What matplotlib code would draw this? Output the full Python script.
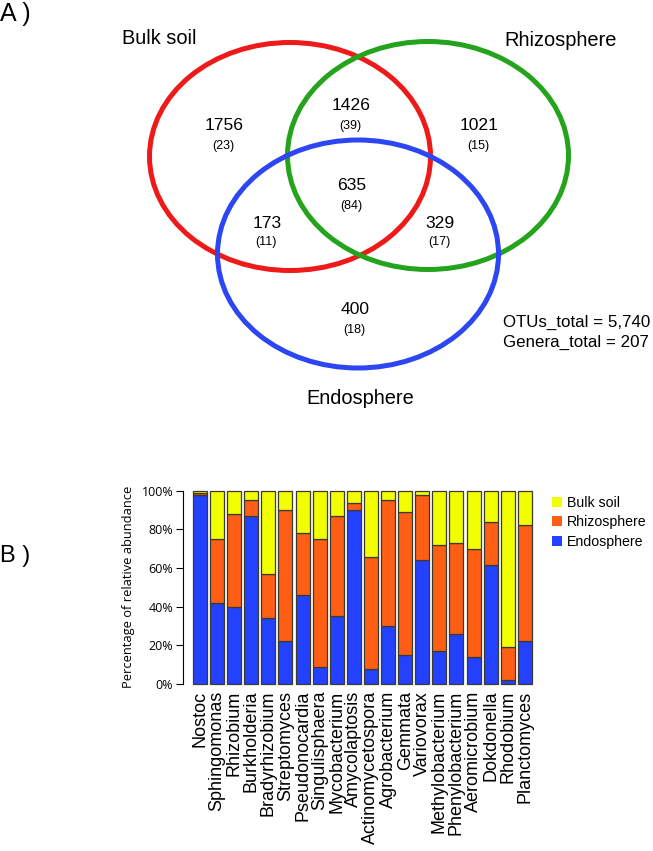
import matplotlib
matplotlib.use('Agg')
import matplotlib.pyplot as plt
from matplotlib.patches import Ellipse, Patch

ARIAL = ['Liberation Sans', 'DejaVu Sans']
OPEN = ['Open Sans', 'DejaVu Sans']

# Venn data
set_names = ['Bulk soil', 'Rhizosphere', 'Endosphere']
# regions: bulk only, rhizo only, endo only, bulk&rhizo, bulk&endo, rhizo&endo, all three
otu_counts = [1756, 1021, 400, 1426, 173, 329, 635]
genera_counts = [23, 15, 18, 39, 11, 17, 84]
otus_total = '5,740'
genera_total = 207

# bar chart data (percent)
genera = ['Nostoc', 'Sphingomonas', 'Rhizobium', 'Burkholderia', 'Bradyrhizobium',
          'Streptomyces', 'Pseudonocardia', 'Singulisphaera', 'Mycobacterium',
          'Amycolaptosis', 'Actinomycetospora', 'Agrobacterium', 'Gemmata',
          'Variovorax', 'Methylobacterium', 'Phenylobacterium', 'Aeromicrobium',
          'Dokdonella', 'Rhodobium', 'Planctomyces']
endosphere = [98, 42, 40, 87, 34, 22, 46, 9, 35, 90, 8, 30, 15, 64, 17, 26, 14, 61.5, 2, 22]
rhizosphere = [1, 33, 48, 8, 23, 68, 32, 66, 52, 3.5, 57.5, 65, 74, 34, 55, 47, 56, 22.5, 17, 60]
bulk_soil = [1, 25, 12, 5, 43, 10, 22, 25, 13, 6.5, 34.5, 5, 11, 2, 28, 27, 30, 16, 81, 18]

c_bulk = '#f2ff00'
c_rhizo = '#ff5f14'
c_endo = '#2342ff'

W, H = 653, 851
fig = plt.figure(figsize=(W / 100, H / 100), dpi=100)

# ---- panel A: venn, axes in pixel units
ax_v = fig.add_axes([0, 0, 1, 1])
ax_v.set_xlim(0, W)
ax_v.set_ylim(H, 0)
ax_v.axis('off')

ring_w, ring_h = 281, 228
centers = [(290, 156.5), (428, 155.5), (358, 254)]
ring_colors = ['#ee1a1a', '#23a41c', '#2b46f2']
for (cx, cy), col in zip(centers, ring_colors):
    ax_v.add_patch(Ellipse((cx, cy), ring_w, ring_h, fill=False, edgecolor=col, linewidth=3.6))

name_pos = [(159.5, 38), (561, 40), (360, 398)]
for name, (x, y) in zip(set_names, name_pos):
    ax_v.text(x, y, name, ha='center', va='center', fontsize=14.4, family=ARIAL)

region_pos = [(224, 126), (479, 126), (355, 310), (351, 106), (267, 223), (440, 223), (352, 186)]
for n, g, (x, y) in zip(otu_counts, genera_counts, region_pos):
    ax_v.text(x, y, str(n), ha='center', va='center', fontsize=12.6, family=ARIAL)
    ax_v.text(x - 1, y + 19.5, '(%d)' % g, ha='center', va='center', fontsize=9, family=ARIAL)

ax_v.text(503, 322, 'OTUs_total = %s' % otus_total, ha='left', va='center', fontsize=12.2, family=ARIAL)
ax_v.text(503, 342, 'Genera_total = %d' % genera_total, ha='left', va='center', fontsize=12.2, family=ARIAL)

ax_v.text(0, 14, 'A )', ha='left', va='center', fontsize=18, family=ARIAL)
ax_v.text(0, 556, 'B )', ha='left', va='center', fontsize=17, family=ARIAL)

# ---- panel B: stacked bars
ax = fig.add_axes([183 / W, 1 - 684 / H, 350.4 / W, 193.3 / H])
x = list(range(len(genera)))
bot2 = [e + r for e, r in zip(endosphere, rhizosphere)]
kw = dict(width=0.82, edgecolor='#3b3a30', linewidth=0.9, clip_on=False)
ax.bar(x, endosphere, color=c_endo, **kw)
ax.bar(x, rhizosphere, bottom=endosphere, color=c_rhizo, **kw)
ax.bar(x, bulk_soil, bottom=bot2, color=c_bulk, **kw)
ax.set_xlim(-0.99, 19.5)
ax.set_ylim(0, 100)
for s in ['top', 'right', 'bottom']:
    ax.spines[s].set_visible(False)
ax.spines['left'].set_linewidth(0.8)
ax.set_yticks([0, 20, 40, 60, 80, 100])
ax.set_yticklabels(['0%', '20%', '40%', '60%', '80%', '100%'], family=OPEN, fontsize=9)
ax.tick_params(axis='y', length=5, width=0.8, pad=2)
ax.set_xticks(x)
ax.set_xticklabels(genera, rotation=90, fontsize=13, family=ARIAL, va='top', ha='center')
ax.tick_params(axis='x', length=0, pad=5)
ax.set_ylabel('Percentage of relative abundance', fontsize=9.3, family=OPEN, labelpad=5)

handles = [Patch(facecolor=c_bulk, edgecolor='none'),
           Patch(facecolor=c_rhizo, edgecolor='none'),
           Patch(facecolor=c_endo, edgecolor='none')]
fig.legend(handles, ['Bulk soil', 'Rhizosphere', 'Endosphere'], loc='upper left',
           bbox_to_anchor=(546 / W, 1 - 490 / H), frameon=False, handlelength=0.7,
           handleheight=0.7, handletextpad=0.4, labelspacing=0.4, borderaxespad=0,
           prop={'family': ARIAL, 'size': 10.2})

fig.savefig('out.png', dpi=100)
